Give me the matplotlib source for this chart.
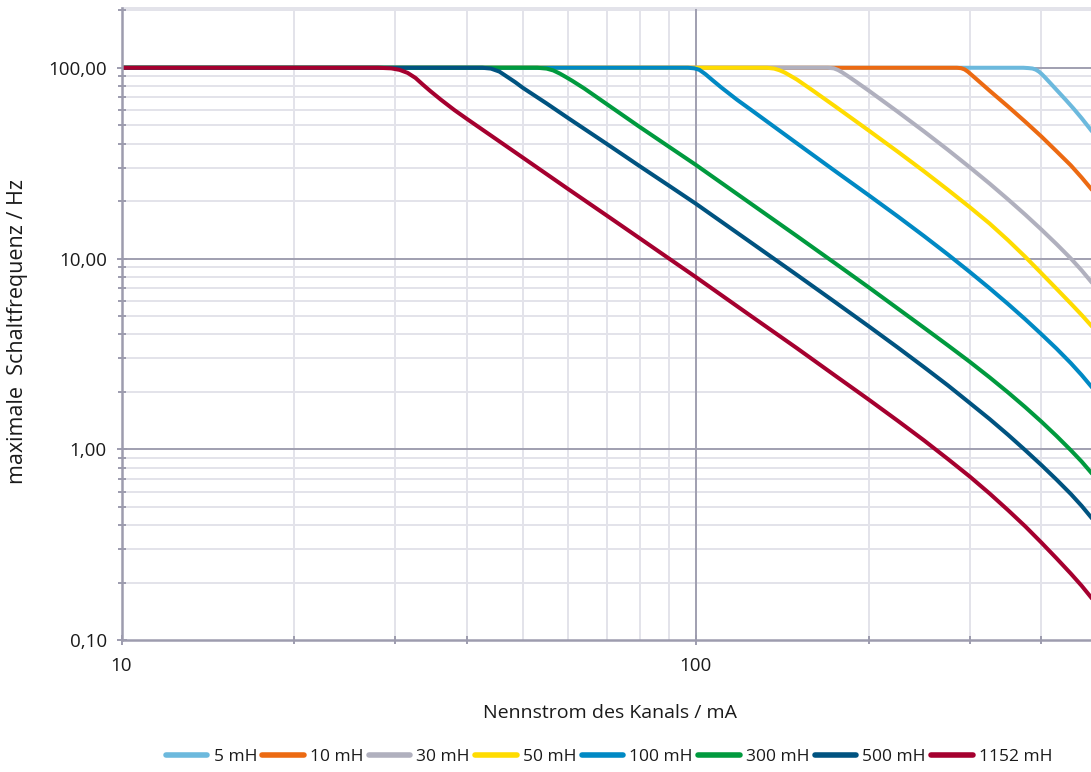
import matplotlib
matplotlib.use("Agg")
import matplotlib.pyplot as plt
from matplotlib.ticker import FixedLocator, NullFormatter, FixedFormatter

plt.rcParams['font.family'] = ['Open Sans', 'DejaVu Sans']

# ---- data ----
labels = ["5 mH", "10 mH", "30 mH", "50 mH", "100 mH", "300 mH", "500 mH", "1152 mH"]
colors = ["#6CB9DD", "#EC6A12", "#B0B0BE", "#FFDC00", "#0089C4", "#009A3E", "#005380", "#A5002F"]

i_5 = [10, 372, 380, 386, 391, 396, 400, 405, 415, 425, 441, 455, 470, 490]
f_5 = [100, 100, 99.6, 99.1, 97.8, 95.5, 93.0, 89.6, 82.8, 76.6, 67.9, 61.1, 54.4, 46.4]

i_10 = [10, 285, 290, 294, 298, 302, 306, 310, 325, 350, 375, 400, 425, 450, 470, 490]
f_10 = [100, 100, 99.5, 98, 95.3, 92, 88.9, 85.9, 75.8, 62.6, 52.1, 43.6, 36.5, 30.8, 26.6, 22.9]

i_30 = [10, 170, 174, 177, 180, 185, 190, 200, 225, 250, 275, 300, 325, 350, 375, 400, 425, 450, 470, 490]
f_30 = [100, 100, 99.3, 97.3, 94.5, 89.5, 84.7, 76.0, 58.7, 46.3, 37.1, 30.1, 24.7, 20.4, 16.97, 14.18, 11.9, 10.01, 8.67, 7.46]

i_50 = [10, 133, 137, 140, 143, 146, 150, 160, 175, 200, 225, 250, 275, 300, 325, 350, 375, 400, 425, 450, 470, 490]
f_50 = [100, 100, 99, 97, 94.3, 91, 86.8, 75.9, 62.7, 46.96, 36.25, 28.6, 22.9, 18.6, 15.25, 12.46, 10.2, 8.37, 6.94, 5.81, 5.06, 4.4]

i_100 = [10, 97, 99.5, 101.5, 104, 107, 111, 118, 125, 150, 175, 200, 225, 250, 275, 300, 325, 350, 375, 400, 425, 450, 470, 490]
f_100 = [100, 100, 99.3, 97.5, 92.5, 86, 78.5, 68, 60, 40.2, 28.7, 21.5, 16.6, 13.09, 10.49, 8.51, 6.98, 5.77, 4.80, 4.01, 3.37, 2.83, 2.45, 2.11]

i_300 = [10, 53, 55, 56.5, 58, 59.5, 61, 64, 70, 80, 90, 100, 125, 150, 175, 200, 225, 250, 275, 300, 325, 350, 375, 400, 425, 450, 470, 490]
f_300 = [100, 100, 99, 96.8, 93.2, 89.2, 85.3, 77.8, 64.5, 48.8, 38.4, 31, 19.31, 13.12, 9.43, 7.07, 5.457, 4.328, 3.502, 2.876, 2.381, 1.984, 1.661, 1.395, 1.174, 0.989, 0.862, 0.745]

i_500 = [10, 42.5, 44, 45.5, 47, 48.5, 50, 55, 60, 70, 80, 90, 100, 125, 150, 175, 200, 225, 250, 275, 300, 325, 350, 375, 400, 425, 450, 470, 490]
f_500 = [100, 100, 99, 95.5, 89.5, 84, 78.5, 65, 54.4, 39.9, 30.4, 24.0, 19.4, 12.09, 8.21, 5.90, 4.42, 3.41, 2.69, 2.16, 1.75, 1.44, 1.19, 0.988, 0.826, 0.693, 0.583, 0.505, 0.434]

i_1152 = [10, 28, 29.5, 30.5, 31.5, 32.5, 33.5, 34.5, 36, 38, 40, 45, 50, 60, 70, 80, 90, 100, 125, 150, 175, 200, 225, 250, 275, 300, 325, 350, 375, 400, 425, 450, 470, 490]
f_1152 = [100, 100, 99.3, 97.5, 94, 88.5, 81.5, 75.5, 68, 60, 53.8, 42.1, 33.8, 23.1, 16.8, 12.73, 9.96, 8.0, 4.98, 3.39, 2.43, 1.824, 1.408, 1.111, 0.888, 0.720, 0.586, 0.479, 0.394, 0.324, 0.268, 0.223, 0.1925, 0.165]

series_i = [i_5, i_10, i_30, i_50, i_100, i_300, i_500, i_1152]
series_f = [f_5, f_10, f_30, f_50, f_100, f_300, f_500, f_1152]

x_major = [10, 100]
x_major_labels = ["10", "100"]
y_major = [0.1, 1, 10, 100]
y_major_labels = ["0,10", "1,00", "10,00", "100,00"]

# ---- figure ----
fig = plt.figure(figsize=(10.91, 7.72), dpi=100)
ax = fig.add_axes([121.5 / 1091, (772 - 640) / 772, 1 - 121.5 / 1091, (640 - 8.3) / 772])

for xi, fi, lab, col in zip(series_i, series_f, labels, colors):
    ax.plot(xi, fi, color=col, lw=2.9, label=lab, solid_capstyle='round', solid_joinstyle='round')

ax.set_xscale('log')
ax.set_yscale('log')
ax.set_xlim(10, 488)
ax.set_ylim(0.1, 205)

minor_c = "#E3E3EA"
major_c = "#A09FB0"
spine_c = "#9D9CAE"

# grid
xminor = [m * d for d in (10, 100) for m in range(2, 10) if m * d < 488]
yminor = [m * d for d in (0.1, 1, 10, 100) for m in range(2, 10) if m * d < 205]
for v in xminor:
    ax.axvline(v, color=minor_c, lw=1.4, zorder=0)
for v in yminor:
    ax.axhline(v, color=minor_c, lw=1.4, zorder=0)
ax.axvline(100, color=major_c, lw=1.4, zorder=0.5)
for v in (1, 10, 100):
    ax.axhline(v, color=major_c, lw=1.4, zorder=0.5)

ax.xaxis.set_major_locator(FixedLocator(x_major))
ax.xaxis.set_major_formatter(FixedFormatter(x_major_labels))
ax.xaxis.set_minor_locator(FixedLocator([20, 30, 40, 200, 300, 400]))
ax.xaxis.set_minor_formatter(NullFormatter())
ax.yaxis.set_major_locator(FixedLocator(y_major))
ax.yaxis.set_major_formatter(FixedFormatter(y_major_labels))
ax.yaxis.set_minor_locator(FixedLocator(yminor))
ax.yaxis.set_minor_formatter(NullFormatter())

ax.tick_params(axis='both', which='both', direction='inout', color=spine_c, width=1.4,
               labelsize=13.5, labelcolor="#1a1a1a")
ax.tick_params(axis='both', which='major', length=7)
ax.tick_params(axis='both', which='minor', length=6)
ax.tick_params(axis='x', which='major', pad=9)
ax.tick_params(axis='y', which='major', pad=7)

ax.spines['right'].set_visible(False)
ax.spines['top'].set_color(minor_c)
ax.spines['top'].set_linewidth(1.4)
for s in ('left', 'bottom'):
    ax.spines[s].set_color(spine_c)
    ax.spines[s].set_linewidth(1.8)
    ax.spines[s].set_zorder(3)

fig.text(610 / 1091, 1 - 713 / 772, "Nennstrom des Kanals / mA", ha='center', va='center',
         fontsize=14, color="#1a1a1a")
fig.text(18 / 1091, 1 - 331 / 772, "maximale  Schaltfrequenz / Hz", ha='center', va='center',
         rotation=90, fontsize=15.5, color="#1a1a1a")

leg = fig.legend(loc='center', bbox_to_anchor=(609 / 1091, 1 - 757 / 772), ncol=8, frameon=False,
                 fontsize=12.5, handlelength=2.4, handletextpad=0.35, columnspacing=0.3,
                 borderaxespad=0, borderpad=0)
for line in leg.get_lines():
    line.set_linewidth(4)
    line.set_solid_capstyle('round')
for t in leg.get_texts():
    t.set_color("#1a1a1a")

fig.savefig("out.png", dpi=100)
